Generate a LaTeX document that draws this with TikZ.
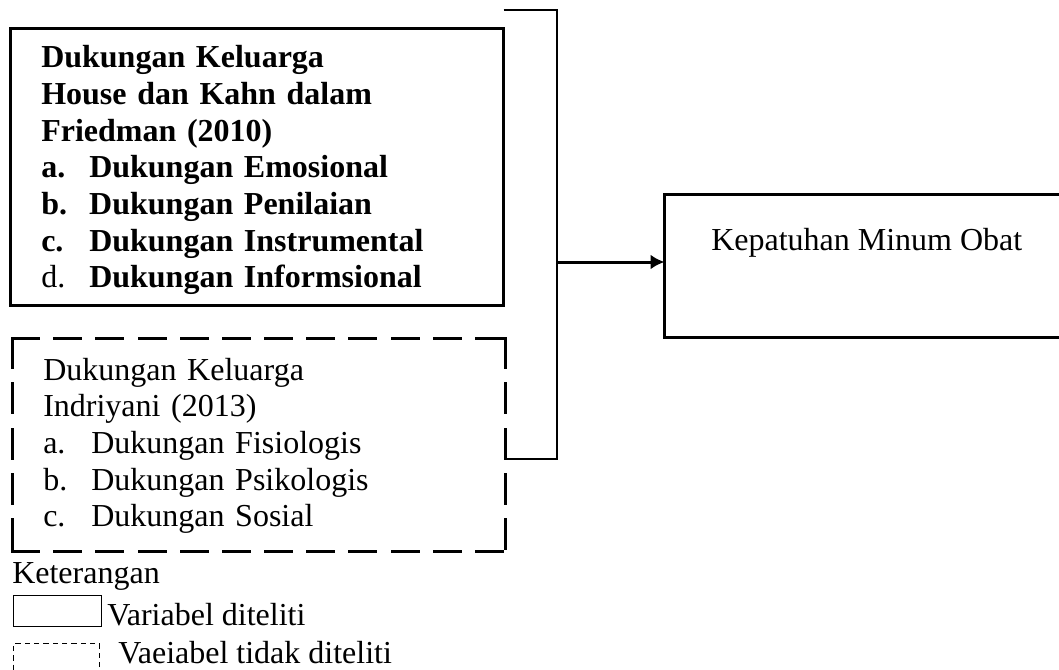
\documentclass[tikz,border=0pt]{standalone}
\usepackage{fontspec}
\setmainfont{Liberation Serif}
\usetikzlibrary{positioning,arrows.meta}
\newcommand{\itemlbl}[1]{\makebox[36pt][l]{#1}}

\begin{document}
\begin{tikzpicture}[
			x=0.75pt, y=-0.75pt,
			font=\fontsize{24}{27.5}\selectfont,
			>={Latex[length=10.5pt, width=11.25pt]},
			varbox/.style={draw, line width=2.25pt, outer sep=0pt, inner sep=0pt, anchor=north west},
			novarbox/.style={outer sep=0pt, inner sep=0pt, anchor=north west},
			novarline/.style={line width=2.25pt, line cap=rect},
			legbox/.style={draw, line width=0.75pt, outer sep=0pt, inner sep=0pt, anchor=north west, minimum height=23.25pt},
			lbl/.style={inner sep=0pt, anchor=base west},
			txt/.style={lbl, align=left, text width=300pt},
			link/.style={line width=1.2pt},
		]
			\useasboundingbox (0, 0) rectangle (1059, 670);

			\node[varbox, minimum width=369.75pt, minimum height=207.75pt] (fam) at (10.5, 28.5) {};
			\node[txt] (famtxt) at (41, 68) {\bfseries Dukungan Keluarga\\
				House dan Kahn dalam\\
				Friedman (2010)\\
				\itemlbl{a.}Dukungan Emosional\\
				\itemlbl{b.}Dukungan Penilaian\\
				\itemlbl{c.}Dukungan Instrumental\\
				\itemlbl{\mdseries d.}Dukungan Informsional};

			\node[novarbox, minimum width=369.75pt, minimum height=159.75pt] (indri) at (12.5, 338.5) {};
			\draw[novarline, dash pattern=on 19.5pt off 12.14pt]
				(indri.north west) -- (indri.north east)
				(indri.south west) -- (indri.south east);
			\draw[novarline, dash pattern=on 21.75pt off 12.19pt]
				(indri.north west) -- (indri.south west)
				(indri.north east) -- (indri.south east);
			\node[txt] (indritxt) at (43, 380) {Dukungan Keluarga\\
				Indriyani (2013)\\
				\itemlbl{a.}Dukungan Fisiologis\\
				\itemlbl{b.}Dukungan Psikologis\\
				\itemlbl{c.}Dukungan Sosial};

			\node[varbox, minimum width=315pt, minimum height=107.25pt] (obat) at (664.5, 194.5) {};
			\node[lbl] (obatlbl) at (711, 250) {Kepatuhan Minum Obat};

			\coordinate (brtop) at (557, 10);
			\coordinate (brbot) at (557, 459);
			\coordinate (brmid) at (557, 262);
			\draw[link] (brtop -| fam.east) -- (brtop) -- (brbot) -- (brbot -| indri.east);
			\draw[->, line width=2.25pt] (brmid) -- (brmid -| obat.west);

			\node[lbl] (ket) at (12, 583) {Keterangan};
			\node[legbox, minimum width=66pt] (legsolid) at (13.5, 595.5) {};
			\node[lbl] (legsolidlbl) at (107, 625) {Variabel diteliti};
			\node[legbox, dash pattern=on 4pt off 3pt, minimum width=64.5pt] (legdash) at (13.5, 643.5) {};
			\node[lbl] (legdashlbl) at (118, 663) {Vaeiabel tidak diteliti};
		\end{tikzpicture}
\end{document}
